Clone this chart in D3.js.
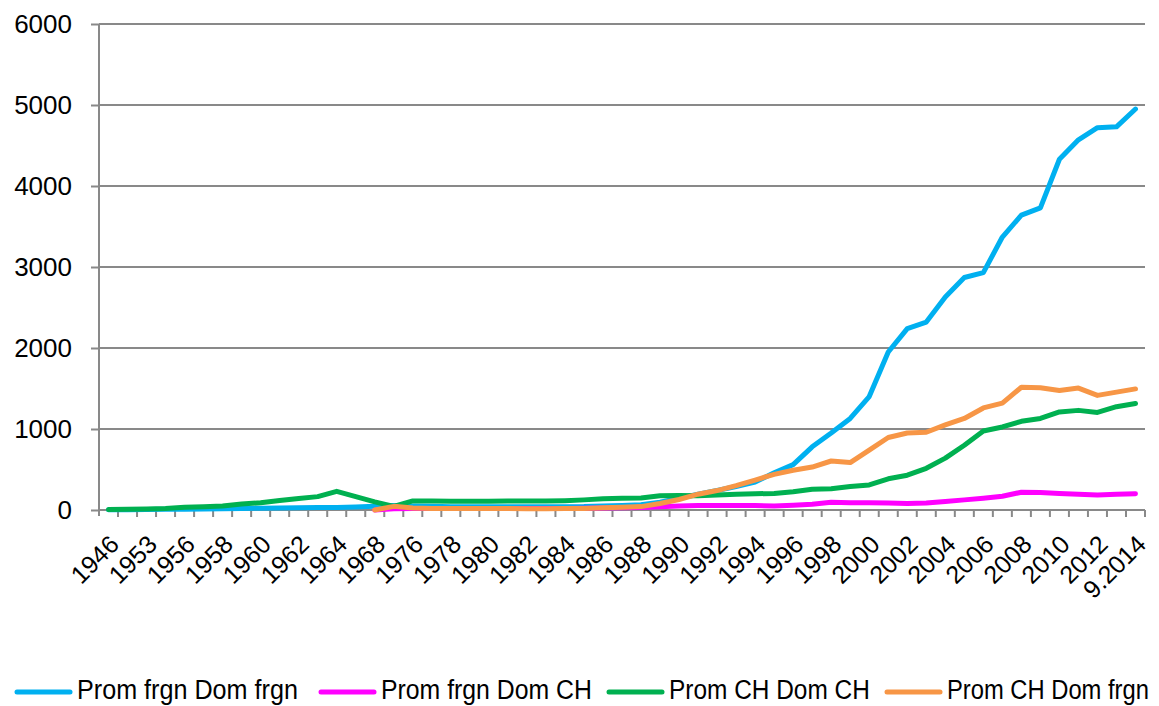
<!DOCTYPE html>
<html>
<head>
<meta charset="utf-8">
<script src="https://cdn.jsdelivr.net/npm/d3@7"></script>
<style>
  body { margin: 0; background: white; }
  .axis text { font-family: "Liberation Sans", Arial, sans-serif; fill: black; }
  .legend text { font-family: "Liberation Sans Narrow", "Liberation Sans", Arial, sans-serif; }
</style>
</head>
<body>
<div class="chart"></div>
<script>
// categories on the x axis (only every second one gets a label)
var years = ["1946","1950","1953","1955","1956","1957","1958","1959","1960","1961","1962","1963","1964","1966","1968","1972",
  "1976","1977","1978","1979","1980","1981","1982","1983","1984","1985","1986","1987","1988","1989","1990","1991","1992",
  "1993","1994","1995","1996","1997","1998","1999","2000","2001","2002","2003","2004","2005","2006","2007","2008","2009",
  "2010","2011","2012","2013","9.2014"]

var promFrgnDomFrgn = [2,3,5,8,10,12,15,18,22,25,28,30,32,38,45,55,
  50,45,40,40,40,40,40,40,40,42,50,55,65,95,145,195,240,
  290,345,460,560,780,950,1130,1400,1950,2240,2320,2630,2870,2930,3370,3640,3730,
  4330,4570,4720,4730,4950]

var promFrgnDomCH = [null,null,null,null,null,null,null,null,null,null,null,null,null,null,0,15,
  20,20,20,20,20,20,20,20,20,22,25,28,30,40,50,55,55,
  55,55,50,60,70,95,90,90,85,80,85,105,125,145,170,220,215,
  205,195,185,195,200]

var promCHDomCH = [5,8,12,18,35,40,50,75,90,118,142,165,230,165,100,45,
  112,110,108,108,108,110,110,110,115,125,140,145,148,175,180,175,185,
  195,200,205,225,255,262,290,310,385,430,515,640,800,975,1025,1095,1130,
  1210,1230,1205,1275,1315]

var promCHDomFrgn = [null,null,null,null,null,null,null,null,null,null,null,null,null,null,0,45,
  25,20,18,18,18,18,15,15,18,20,28,35,42,80,130,195,240,
  300,370,440,490,530,605,585,740,895,950,960,1050,1130,1260,1320,1515,1510,
  1475,1505,1415,1455,1495]

var yTicks = [0,1000,2000,3000,4000,5000,6000]

var seriesNames = ["Prom frgn Dom frgn","Prom frgn Dom CH","Prom CH Dom CH","Prom CH Dom frgn"]
var seriesColors = ["#00B0F0","#FF00FF","#00B050","#F79646"]
var seriesValues = [promFrgnDomFrgn, promFrgnDomCH, promCHDomCH, promCHDomFrgn]

var svg = d3.select(".chart").append("svg")
  .attr("width", 1159)
  .attr("height", 706)

var x = d3.scaleBand()
  .domain(years)
  .range([99, 1145])
  .padding(0)

var y = d3.scaleLinear()
  .domain([0, 6000])
  .range([510, 24])

// gridlines
svg.append("g").selectAll("line")
  .data(yTicks.filter(function(d){ return d > 0 }))
  .enter().append("line")
    .attr("x1", 99).attr("x2", 1145)
    .attr("y1", function(d){ return y(d) }).attr("y2", function(d){ return y(d) })
    .attr("stroke", "#898989")
    .attr("stroke-width", 2)

// y axis
var yAxis = d3.axisLeft(y).tickValues(yTicks).tickFormat(d3.format("d")).tickSize(8).tickPadding(19).tickSizeOuter(0)
var gy = svg.append("g")
  .attr("class", "axis y")
  .attr("transform", "translate(99,0)")
  .call(yAxis)
gy.selectAll("line, path").attr("stroke", "#898989").attr("stroke-width", 2)
gy.selectAll("text").style("font-size", "26px")
gy.select(".domain").attr("d", "M0,24V516")

// x axis: ticks between categories, labels on every second category
var gx = svg.append("g").attr("class", "axis x")
gx.append("line")
  .attr("x1", 99).attr("x2", 1145)
  .attr("y1", y(0)).attr("y2", y(0))
  .attr("stroke", "#898989").attr("stroke-width", 2)
gx.selectAll(".tick").data(years).enter().append("line")
  .attr("x1", function(d){ return x(d) + x.bandwidth() }).attr("x2", function(d){ return x(d) + x.bandwidth() })
  .attr("y1", y(0)).attr("y2", y(0) + 7)
  .attr("stroke", "#898989").attr("stroke-width", 2)
gx.selectAll("text").data(years.filter(function(d, i){ return i % 2 == 0 }))
  .enter().append("text")
    .attr("transform", function(d){ return "translate(" + (x(d) + x.bandwidth()/2 + 12) + ",546) rotate(-45)" })
    .attr("text-anchor", "end")
    .style("font-size", "25px")
    .text(function(d){ return d })

// lines
var line = d3.line()
  .defined(function(d){ return d != null })
  .x(function(d, i){ return x(years[i]) + x.bandwidth()/2 })
  .y(function(d){ return y(d) })

svg.append("g").selectAll("path")
  .data(seriesValues).enter().append("path")
    .attr("d", function(d){ return line(d) })
    .attr("fill", "none")
    .attr("stroke", function(d, i){ return seriesColors[i] })
    .attr("stroke-width", 5)
    .attr("stroke-linejoin", "round")
    .attr("stroke-linecap", "round")

// legend (text squeezed horizontally to the narrow face of the original)
var legendX = [17, 321, 609, 887]
var legendW = [221, 211, 201, 202]
var leg = svg.append("g").attr("class", "legend")
  .selectAll("g").data(seriesNames).enter().append("g")
    .attr("transform", function(d, i){ return "translate(" + legendX[i] + ",0)" })
leg.append("line")
  .attr("x1", 0).attr("x2", 53)
  .attr("y1", 692).attr("y2", 692)
  .attr("stroke", function(d, i){ return seriesColors[i] })
  .attr("stroke-width", 5)
  .attr("stroke-linecap", "round")
leg.append("text")
  .attr("y", 699)
  .style("font-size", "28px")
  .text(function(d){ return d })
  .attr("transform", function(d, i){
    var k = Math.min(1, legendW[i] / this.getComputedTextLength())
    return "translate(60,0) scale(" + k + ",1)"
  })
</script>
</body>
</html>
